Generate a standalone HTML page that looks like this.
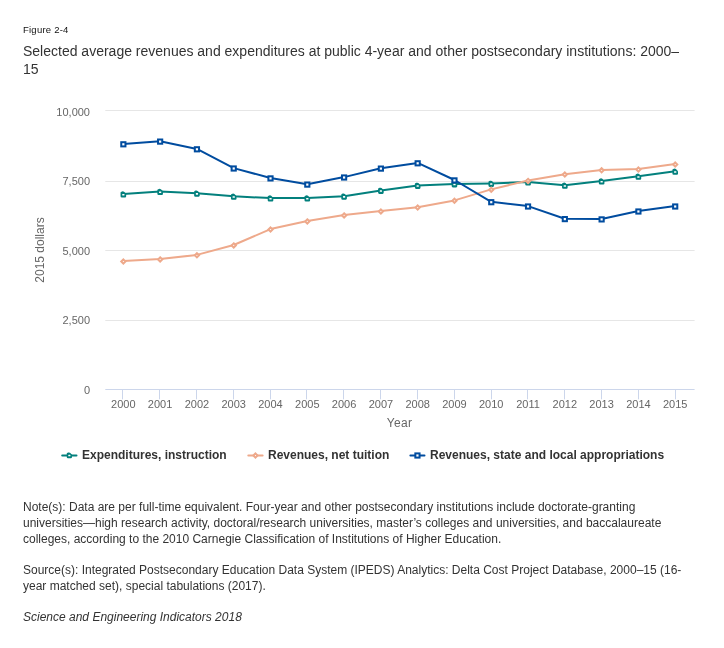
<!DOCTYPE html>
<html><head><meta charset="utf-8"><title>Figure 2-4</title>
<style>
html,body{margin:0;padding:0;background:#fff}
body{width:724px;height:648px;position:relative;overflow:hidden;font-family:"Liberation Sans",sans-serif;color:#222}
div{position:absolute}
.ax{font-size:11px;color:#666;line-height:12px;white-space:nowrap}
.axt{font-size:12px;color:#666;line-height:14px}
.xc{text-align:center}
.fig{font-size:9.5px;line-height:12px;color:#111;letter-spacing:0.23px}
.ttl{font-size:14px;line-height:18px;color:#333;width:680px}
.lg{font-size:12px;font-weight:bold;color:#333;line-height:14px;white-space:nowrap}
.nt{font-size:12px;line-height:16px;color:#333;width:690px}
</style></head><body>
<svg width="724" height="648" viewBox="0 0 724 648" style="position:absolute;left:0;top:0"><path d="M105.3 110.5 H694.6" stroke="#e6e6e6" stroke-width="1" fill="none"/><path d="M105.3 181.5 H694.6" stroke="#e6e6e6" stroke-width="1" fill="none"/><path d="M105.3 250.5 H694.6" stroke="#e6e6e6" stroke-width="1" fill="none"/><path d="M105.3 320.5 H694.6" stroke="#e6e6e6" stroke-width="1" fill="none"/><path d="M105.3 389.5 H694.6" stroke="#ccd6eb" stroke-width="1" fill="none"/><path d="M122.50 389.5 V399.3" stroke="#ccd6eb" stroke-width="1" fill="none"/><path d="M159.50 389.5 V399.3" stroke="#ccd6eb" stroke-width="1" fill="none"/><path d="M196.50 389.5 V399.3" stroke="#ccd6eb" stroke-width="1" fill="none"/><path d="M233.50 389.5 V399.3" stroke="#ccd6eb" stroke-width="1" fill="none"/><path d="M270.50 389.5 V399.3" stroke="#ccd6eb" stroke-width="1" fill="none"/><path d="M306.50 389.5 V399.3" stroke="#ccd6eb" stroke-width="1" fill="none"/><path d="M343.50 389.5 V399.3" stroke="#ccd6eb" stroke-width="1" fill="none"/><path d="M380.50 389.5 V399.3" stroke="#ccd6eb" stroke-width="1" fill="none"/><path d="M417.50 389.5 V399.3" stroke="#ccd6eb" stroke-width="1" fill="none"/><path d="M454.50 389.5 V399.3" stroke="#ccd6eb" stroke-width="1" fill="none"/><path d="M491.50 389.5 V399.3" stroke="#ccd6eb" stroke-width="1" fill="none"/><path d="M527.50 389.5 V399.3" stroke="#ccd6eb" stroke-width="1" fill="none"/><path d="M564.50 389.5 V399.3" stroke="#ccd6eb" stroke-width="1" fill="none"/><path d="M601.50 389.5 V399.3" stroke="#ccd6eb" stroke-width="1" fill="none"/><path d="M638.50 389.5 V399.3" stroke="#ccd6eb" stroke-width="1" fill="none"/><path d="M675.50 389.5 V399.3" stroke="#ccd6eb" stroke-width="1" fill="none"/><path d="M123.3 194.0 L160.1 191.5 L196.9 193.2 L233.7 196.3 L270.5 198.1 L307.3 198.1 L344.1 196.2 L380.9 190.4 L417.7 185.4 L454.5 183.9 L491.2 183.4 L528.0 182.1 L564.8 185.3 L601.6 181.1 L638.4 176.3 L675.2 171.3" stroke="#03807d" stroke-width="2" fill="none" stroke-linejoin="round" stroke-linecap="round"/><path d="M120.55 192.50 L120.55 196.20 Q120.55 197.50 121.85 197.50 L125.05 197.50 Q126.15 197.50 126.15 196.40 L126.15 194.50 Q126.15 193.70 125.55 193.10 L124.05 191.70 Q123.15 191.00 122.05 191.40 Q120.55 191.70 120.55 192.50 Z" fill="#03807d"/><rect x="122.20" y="193.90" width="2.30" height="1.55" rx="0.35" fill="#fff"/><path d="M157.34 190.00 L157.34 193.70 Q157.34 195.00 158.64 195.00 L161.84 195.00 Q162.94 195.00 162.94 193.90 L162.94 192.00 Q162.94 191.20 162.34 190.60 L160.84 189.20 Q159.94 188.50 158.84 188.90 Q157.34 189.20 157.34 190.00 Z" fill="#03807d"/><rect x="158.99" y="191.40" width="2.30" height="1.55" rx="0.35" fill="#fff"/><path d="M194.13 191.70 L194.13 195.40 Q194.13 196.70 195.43 196.70 L198.63 196.70 Q199.73 196.70 199.73 195.60 L199.73 193.70 Q199.73 192.90 199.13 192.30 L197.63 190.90 Q196.73 190.20 195.63 190.60 Q194.13 190.90 194.13 191.70 Z" fill="#03807d"/><rect x="195.78" y="193.10" width="2.30" height="1.55" rx="0.35" fill="#fff"/><path d="M230.92 194.80 L230.92 198.50 Q230.92 199.80 232.22 199.80 L235.42 199.80 Q236.52 199.80 236.52 198.70 L236.52 196.80 Q236.52 196.00 235.92 195.40 L234.42 194.00 Q233.52 193.30 232.42 193.70 Q230.92 194.00 230.92 194.80 Z" fill="#03807d"/><rect x="232.57" y="196.20" width="2.30" height="1.55" rx="0.35" fill="#fff"/><path d="M267.71 196.60 L267.71 200.30 Q267.71 201.60 269.01 201.60 L272.21 201.60 Q273.31 201.60 273.31 200.50 L273.31 198.60 Q273.31 197.80 272.71 197.20 L271.21 195.80 Q270.31 195.10 269.21 195.50 Q267.71 195.80 267.71 196.60 Z" fill="#03807d"/><rect x="269.36" y="198.00" width="2.30" height="1.55" rx="0.35" fill="#fff"/><path d="M304.50 196.60 L304.50 200.30 Q304.50 201.60 305.80 201.60 L309.00 201.60 Q310.10 201.60 310.10 200.50 L310.10 198.60 Q310.10 197.80 309.50 197.20 L308.00 195.80 Q307.10 195.10 306.00 195.50 Q304.50 195.80 304.50 196.60 Z" fill="#03807d"/><rect x="306.15" y="198.00" width="2.30" height="1.55" rx="0.35" fill="#fff"/><path d="M341.29 194.70 L341.29 198.40 Q341.29 199.70 342.59 199.70 L345.79 199.70 Q346.89 199.70 346.89 198.60 L346.89 196.70 Q346.89 195.90 346.29 195.30 L344.79 193.90 Q343.89 193.20 342.79 193.60 Q341.29 193.90 341.29 194.70 Z" fill="#03807d"/><rect x="342.94" y="196.10" width="2.30" height="1.55" rx="0.35" fill="#fff"/><path d="M378.08 188.90 L378.08 192.60 Q378.08 193.90 379.38 193.90 L382.58 193.90 Q383.68 193.90 383.68 192.80 L383.68 190.90 Q383.68 190.10 383.08 189.50 L381.58 188.10 Q380.68 187.40 379.58 187.80 Q378.08 188.10 378.08 188.90 Z" fill="#03807d"/><rect x="379.73" y="190.30" width="2.30" height="1.55" rx="0.35" fill="#fff"/><path d="M414.87 183.90 L414.87 187.60 Q414.87 188.90 416.17 188.90 L419.37 188.90 Q420.47 188.90 420.47 187.80 L420.47 185.90 Q420.47 185.10 419.87 184.50 L418.37 183.10 Q417.47 182.40 416.37 182.80 Q414.87 183.10 414.87 183.90 Z" fill="#03807d"/><rect x="416.52" y="185.30" width="2.30" height="1.55" rx="0.35" fill="#fff"/><path d="M451.66 182.40 L451.66 186.10 Q451.66 187.40 452.96 187.40 L456.16 187.40 Q457.26 187.40 457.26 186.30 L457.26 184.40 Q457.26 183.60 456.66 183.00 L455.16 181.60 Q454.26 180.90 453.16 181.30 Q451.66 181.60 451.66 182.40 Z" fill="#03807d"/><rect x="453.31" y="183.80" width="2.30" height="1.55" rx="0.35" fill="#fff"/><path d="M488.45 181.90 L488.45 185.60 Q488.45 186.90 489.75 186.90 L492.95 186.90 Q494.05 186.90 494.05 185.80 L494.05 183.90 Q494.05 183.10 493.45 182.50 L491.95 181.10 Q491.05 180.40 489.95 180.80 Q488.45 181.10 488.45 181.90 Z" fill="#03807d"/><rect x="490.10" y="183.30" width="2.30" height="1.55" rx="0.35" fill="#fff"/><path d="M525.24 180.60 L525.24 184.30 Q525.24 185.60 526.54 185.60 L529.74 185.60 Q530.84 185.60 530.84 184.50 L530.84 182.60 Q530.84 181.80 530.24 181.20 L528.74 179.80 Q527.84 179.10 526.74 179.50 Q525.24 179.80 525.24 180.60 Z" fill="#03807d"/><rect x="526.89" y="182.00" width="2.30" height="1.55" rx="0.35" fill="#fff"/><path d="M562.03 183.80 L562.03 187.50 Q562.03 188.80 563.33 188.80 L566.53 188.80 Q567.63 188.80 567.63 187.70 L567.63 185.80 Q567.63 185.00 567.03 184.40 L565.53 183.00 Q564.63 182.30 563.53 182.70 Q562.03 183.00 562.03 183.80 Z" fill="#03807d"/><rect x="563.68" y="185.20" width="2.30" height="1.55" rx="0.35" fill="#fff"/><path d="M598.82 179.60 L598.82 183.30 Q598.82 184.60 600.12 184.60 L603.32 184.60 Q604.42 184.60 604.42 183.50 L604.42 181.60 Q604.42 180.80 603.82 180.20 L602.32 178.80 Q601.42 178.10 600.32 178.50 Q598.82 178.80 598.82 179.60 Z" fill="#03807d"/><rect x="600.47" y="181.00" width="2.30" height="1.55" rx="0.35" fill="#fff"/><path d="M635.61 174.80 L635.61 178.50 Q635.61 179.80 636.91 179.80 L640.11 179.80 Q641.21 179.80 641.21 178.70 L641.21 176.80 Q641.21 176.00 640.61 175.40 L639.11 174.00 Q638.21 173.30 637.11 173.70 Q635.61 174.00 635.61 174.80 Z" fill="#03807d"/><rect x="637.26" y="176.20" width="2.30" height="1.55" rx="0.35" fill="#fff"/><path d="M672.40 169.80 L672.40 173.50 Q672.40 174.80 673.70 174.80 L676.90 174.80 Q678.00 174.80 678.00 173.70 L678.00 171.80 Q678.00 171.00 677.40 170.40 L675.90 169.00 Q675.00 168.30 673.90 168.70 Q672.40 169.00 672.40 169.80 Z" fill="#03807d"/><rect x="674.05" y="171.20" width="2.30" height="1.55" rx="0.35" fill="#fff"/><path d="M123.3 261.1 L160.1 259.0 L196.9 254.9 L233.7 245.0 L270.5 229.1 L307.3 221.0 L344.1 215.0 L380.9 211.1 L417.7 207.2 L454.5 200.4 L491.2 189.4 L528.0 180.5 L564.8 174.2 L601.6 169.9 L638.4 169.1 L675.2 164.1" stroke="#eea98b" stroke-width="2" fill="none" stroke-linejoin="round" stroke-linecap="round"/><path d="M123.35 259.40 L125.45 261.50 L123.35 263.60 L121.25 261.50 Z" fill="#fff" stroke="#eea98b" stroke-width="2"/><path d="M160.14 257.30 L162.24 259.40 L160.14 261.50 L158.04 259.40 Z" fill="#fff" stroke="#eea98b" stroke-width="2"/><path d="M196.93 253.20 L199.03 255.30 L196.93 257.40 L194.83 255.30 Z" fill="#fff" stroke="#eea98b" stroke-width="2"/><path d="M233.72 243.30 L235.82 245.40 L233.72 247.50 L231.62 245.40 Z" fill="#fff" stroke="#eea98b" stroke-width="2"/><path d="M270.51 227.40 L272.61 229.50 L270.51 231.60 L268.41 229.50 Z" fill="#fff" stroke="#eea98b" stroke-width="2"/><path d="M307.30 219.30 L309.40 221.40 L307.30 223.50 L305.20 221.40 Z" fill="#fff" stroke="#eea98b" stroke-width="2"/><path d="M344.09 213.30 L346.19 215.40 L344.09 217.50 L341.99 215.40 Z" fill="#fff" stroke="#eea98b" stroke-width="2"/><path d="M380.88 209.40 L382.98 211.50 L380.88 213.60 L378.78 211.50 Z" fill="#fff" stroke="#eea98b" stroke-width="2"/><path d="M417.67 205.50 L419.77 207.60 L417.67 209.70 L415.57 207.60 Z" fill="#fff" stroke="#eea98b" stroke-width="2"/><path d="M454.46 198.70 L456.56 200.80 L454.46 202.90 L452.36 200.80 Z" fill="#fff" stroke="#eea98b" stroke-width="2"/><path d="M491.25 187.70 L493.35 189.80 L491.25 191.90 L489.15 189.80 Z" fill="#fff" stroke="#eea98b" stroke-width="2"/><path d="M528.04 178.80 L530.14 180.90 L528.04 183.00 L525.94 180.90 Z" fill="#fff" stroke="#eea98b" stroke-width="2"/><path d="M564.83 172.50 L566.93 174.60 L564.83 176.70 L562.73 174.60 Z" fill="#fff" stroke="#eea98b" stroke-width="2"/><path d="M601.62 168.20 L603.72 170.30 L601.62 172.40 L599.52 170.30 Z" fill="#fff" stroke="#eea98b" stroke-width="2"/><path d="M638.41 167.40 L640.51 169.50 L638.41 171.60 L636.31 169.50 Z" fill="#fff" stroke="#eea98b" stroke-width="2"/><path d="M675.20 162.40 L677.30 164.50 L675.20 166.60 L673.10 164.50 Z" fill="#fff" stroke="#eea98b" stroke-width="2"/><path d="M123.3 143.9 L160.1 141.2 L196.9 148.9 L233.7 168.1 L270.5 178.0 L307.3 184.2 L344.1 177.1 L380.9 168.2 L417.7 162.9 L454.5 180.0 L491.2 201.8 L528.0 206.1 L564.8 218.7 L601.6 219.0 L638.4 211.1 L675.2 206.1" stroke="#004c9f" stroke-width="2" fill="none" stroke-linejoin="round" stroke-linecap="round"/><rect x="121.25" y="142.20" width="4.20" height="4.20" fill="#fff" stroke="#004c9f" stroke-width="2"/><rect x="158.04" y="139.50" width="4.20" height="4.20" fill="#fff" stroke="#004c9f" stroke-width="2"/><rect x="194.83" y="147.20" width="4.20" height="4.20" fill="#fff" stroke="#004c9f" stroke-width="2"/><rect x="231.62" y="166.40" width="4.20" height="4.20" fill="#fff" stroke="#004c9f" stroke-width="2"/><rect x="268.41" y="176.30" width="4.20" height="4.20" fill="#fff" stroke="#004c9f" stroke-width="2"/><rect x="305.20" y="182.50" width="4.20" height="4.20" fill="#fff" stroke="#004c9f" stroke-width="2"/><rect x="341.99" y="175.40" width="4.20" height="4.20" fill="#fff" stroke="#004c9f" stroke-width="2"/><rect x="378.78" y="166.50" width="4.20" height="4.20" fill="#fff" stroke="#004c9f" stroke-width="2"/><rect x="415.57" y="161.20" width="4.20" height="4.20" fill="#fff" stroke="#004c9f" stroke-width="2"/><rect x="452.36" y="178.30" width="4.20" height="4.20" fill="#fff" stroke="#004c9f" stroke-width="2"/><rect x="489.15" y="200.10" width="4.20" height="4.20" fill="#fff" stroke="#004c9f" stroke-width="2"/><rect x="525.94" y="204.40" width="4.20" height="4.20" fill="#fff" stroke="#004c9f" stroke-width="2"/><rect x="562.73" y="217.00" width="4.20" height="4.20" fill="#fff" stroke="#004c9f" stroke-width="2"/><rect x="599.52" y="217.30" width="4.20" height="4.20" fill="#fff" stroke="#004c9f" stroke-width="2"/><rect x="636.31" y="209.40" width="4.20" height="4.20" fill="#fff" stroke="#004c9f" stroke-width="2"/><rect x="673.10" y="204.40" width="4.20" height="4.20" fill="#fff" stroke="#004c9f" stroke-width="2"/><path d="M62.2 455.5 H76.5" stroke="#03807d" stroke-width="2" stroke-linecap="round"/><path d="M66.75 453.54 L66.75 456.97 Q66.75 458.18 67.96 458.18 L70.93 458.18 Q71.95 458.18 71.95 457.16 L71.95 455.39 Q71.95 454.65 71.39 454.09 L70.00 452.79 Q69.16 452.14 68.14 452.51 Q66.75 452.79 66.75 453.54 Z" fill="#03807d"/><rect x="68.28" y="454.84" width="2.14" height="1.44" rx="0.35" fill="#fff"/><path d="M248.3 455.5 H262.6" stroke="#eea98b" stroke-width="2" stroke-linecap="round"/><path d="M255.45 453.40 L257.55 455.50 L255.45 457.60 L253.35 455.50 Z" fill="#fff" stroke="#eea98b" stroke-width="2"/><path d="M410.4 455.5 H424.5" stroke="#004c9f" stroke-width="2" stroke-linecap="round"/><rect x="415.35" y="453.40" width="4.20" height="4.20" fill="#fff" stroke="#004c9f" stroke-width="2"/></svg>
<div id="tx" style="left:0;top:0;width:724px;height:648px;will-change:transform">
<div class="fig" style="left:23px;top:24px">Figure 2-4</div>
<div class="ttl" style="left:23px;top:42px">Selected average revenues and expenditures at public 4-year and other postsecondary institutions: 2000–<br>15</div>
<div class="ax" style="right:634px;top:105.5px">10,000</div><div class="ax" style="right:634px;top:175.4px">7,500</div><div class="ax" style="right:634px;top:244.9px">5,000</div><div class="ax" style="right:634px;top:313.7px">2,500</div><div class="ax" style="right:634px;top:384.1px">0</div><div class="ax xc" style="left:103.3px;top:398.2px;width:40px">2000</div><div class="ax xc" style="left:140.1px;top:398.2px;width:40px">2001</div><div class="ax xc" style="left:176.9px;top:398.2px;width:40px">2002</div><div class="ax xc" style="left:213.7px;top:398.2px;width:40px">2003</div><div class="ax xc" style="left:250.5px;top:398.2px;width:40px">2004</div><div class="ax xc" style="left:287.3px;top:398.2px;width:40px">2005</div><div class="ax xc" style="left:324.1px;top:398.2px;width:40px">2006</div><div class="ax xc" style="left:360.9px;top:398.2px;width:40px">2007</div><div class="ax xc" style="left:397.7px;top:398.2px;width:40px">2008</div><div class="ax xc" style="left:434.5px;top:398.2px;width:40px">2009</div><div class="ax xc" style="left:471.2px;top:398.2px;width:40px">2010</div><div class="ax xc" style="left:508.0px;top:398.2px;width:40px">2011</div><div class="ax xc" style="left:544.8px;top:398.2px;width:40px">2012</div><div class="ax xc" style="left:581.6px;top:398.2px;width:40px">2013</div><div class="ax xc" style="left:618.4px;top:398.2px;width:40px">2014</div><div class="ax xc" style="left:655.2px;top:398.2px;width:40px">2015</div><div class="axt xc" style="left:369.6px;top:416px;width:60px;letter-spacing:0.3px">Year</div><div class="axt" style="left:40.2px;top:250px;transform:translate(-50%,-50%) rotate(-90deg);white-space:nowrap">2015 dollars</div>
<div class="lg" style="left:82px;top:448px">Expenditures, instruction</div>
<div class="lg" style="left:268px;top:448px">Revenues, net tuition</div>
<div class="lg" style="left:430px;top:448px">Revenues, state and local appropriations</div>
<div class="nt" style="left:23px;top:499px">Note(s): Data are per full-time equivalent. Four-year and other postsecondary institutions include doctorate-granting<br>universities—high research activity, doctoral/research universities, master’s colleges and universities, and baccalaureate<br>colleges, according to the 2010 Carnegie Classification of Institutions of Higher Education.</div>
<div class="nt" style="left:23px;top:562px">Source(s): Integrated Postsecondary Education Data System (IPEDS) Analytics: Delta Cost Project Database, 2000–15 (16-<br>year matched set), special tabulations (2017).</div>
<div class="nt" style="left:23px;top:609px;font-style:italic">Science and Engineering Indicators 2018</div>
</div>
</body></html>
